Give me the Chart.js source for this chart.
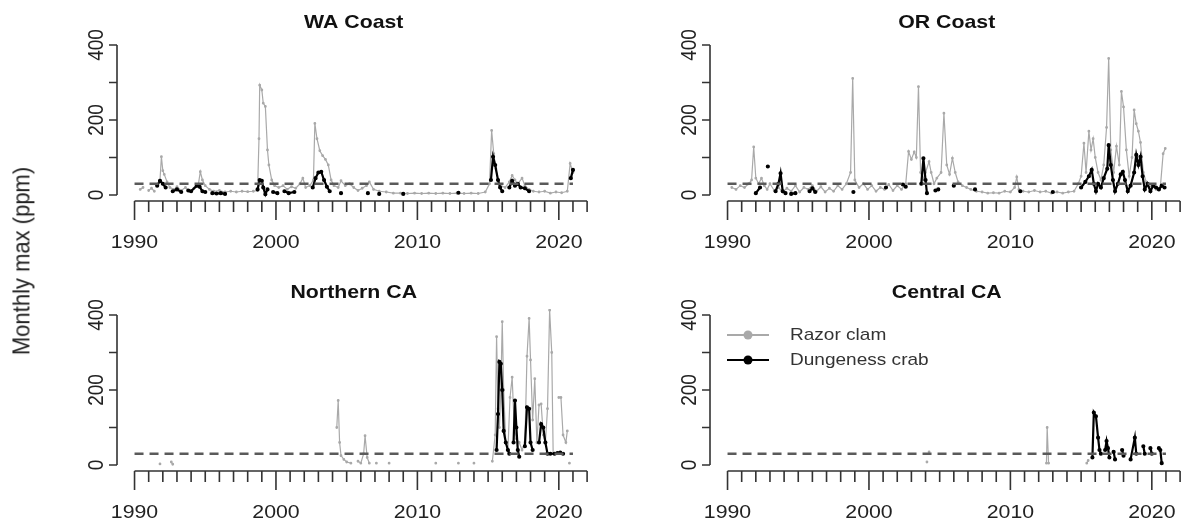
<!DOCTYPE html>
<html>
<head>
<meta charset="utf-8">
<script src="https://cdn.jsdelivr.net/npm/chart.js@4/dist/chart.umd.min.js"></script>
<style>
  body { margin: 0; background: #fff; }
  #wrap { position: relative; width: 1181px; height: 522px; overflow: hidden; font-family: "Liberation Sans", Arial, sans-serif; }
  .panel { position: absolute; }
  #ylab { position: absolute; left: 22px; top: 261px; transform: translate(-50%, -50%) rotate(-90deg) scaleY(1.12); font-size: 22px; color: #222; white-space: nowrap; }
</style>
</head>
<body>
<div id="wrap">
  <canvas class="panel" id="wa" width="600" height="252" style="left:0;top:0"></canvas>
  <canvas class="panel" id="or" width="600" height="252" style="left:593px;top:0"></canvas>
  <canvas class="panel" id="nca" width="600" height="252" style="left:0;top:270px"></canvas>
  <canvas class="panel" id="cca" width="600" height="252" style="left:593px;top:270px"></canvas>
  <div id="ylab">Monthly max (ppm)</div>
</div>
<script>
// monthly max domoic acid (ppm), decimal year; null breaks the line
const waClamT = [1990.4, 1990.6, 1990.8, 1991.0, 1991.2, 1991.4, 1991.6, 1991.8, 1991.9, 1992.0, 1992.1, 1992.3, 1992.5, 1992.8, 1993.0, 1993.3, 1993.6, 1993.9, 1994.2, 1994.5, 1994.65, 1994.8, 1995.0, 1995.3, 1995.6, 1996.0, 1996.4, 1996.8, 1997.2, 1997.6, 1998.0, 1998.4, 1998.7, 1998.8, 1998.85, 1999.0, 1999.1, 1999.25, 1999.4, 1999.5, 1999.7, 1999.9, 2000.2, 2000.5, 2000.8, 2001.1, 2001.4, 2001.7, 2001.9, 2002.1, 2002.4, 2002.65, 2002.75, 2002.9, 2003.1, 2003.3, 2003.5, 2003.7, 2003.9, 2004.1, 2004.4, 2004.6, 2004.9, 2005.2, 2005.5, 2005.8, 2006.1, 2006.4, 2006.6, 2006.9, 2007.3, 2007.8, 2008.3, 2008.8, 2009.3, 2009.8, 2010.3, 2010.8, 2011.3, 2011.8, 2012.3, 2012.8, 2013.3, 2013.8, 2014.3, 2014.8, 2015.1, 2015.25, 2015.4, 2015.55, 2015.7, 2015.9, 2016.2, 2016.5, 2016.7, 2016.9, 2017.1, 2017.4, 2017.6, 2017.9, 2018.2, 2018.6, 2019.0, 2019.4, 2019.8, 2020.2, 2020.6, 2020.8, 2021.0];
const waClamV = [15, 20, null, 12, 18, 10, null, 40, 102, 65, 55, 35, 20, 15, 22, 12, 20, 10, 18, 25, 62, 40, 25, 15, 10, 12, 8, 10, 8, 10, 9, 10, 12, 150, 293, 280, 245, 236, 120, 80, 40, 25, 20, 25, 15, 22, 18, 30, 45, 20, 25, 40, 191, 150, 118, 105, 95, 80, 40, 25, 20, 38, 25, 30, 20, 12, 18, 25, 35, 15, 10, 8, 5, 5, 4, 5, 4, 5, 4, 5, 4, 5, 4, 5, 4, 8, 30, 172, 110, 70, 40, 25, 20, 35, 52, 40, 30, 45, 25, 15, 10, 8, 10, 5, 8, 6, 10, 84, 60];
const waCrabT = [1991.6, 1991.8, 1992.0, 1992.2, 1992.4, 1992.7, 1993.0, 1993.3, 1993.5, 1993.8, 1994.0, 1994.4, 1994.6, 1994.8, 1995.0, 1995.2, 1995.5, 1995.8, 1996.1, 1996.4, 1996.6, 1998.7, 1998.85, 1999.0, 1999.1, 1999.25, 1999.4, 1999.6, 1999.8, 2000.1, 2000.3, 2000.6, 2000.9, 2001.3, 2001.5, 2002.6, 2002.8, 2003.0, 2003.2, 2003.4, 2003.6, 2003.8, 2004.0, 2004.6, 2004.8, 2006.5, 2006.7, 2007.3, 2007.5, 2009.0, 2009.2, 2012.9, 2013.1, 2015.2, 2015.35, 2015.5, 2015.7, 2015.85, 2016.0, 2016.2, 2016.5, 2016.7, 2016.9, 2017.1, 2017.3, 2017.6, 2017.9, 2018.1, 2020.85, 2021.0];
const waCrabV = [25, 38, 30, 20, null, 10, 15, 8, null, 12, 10, 25, 22, 10, 8, null, 5, 4, 5, 3, null, 15, 40, 38, 20, 2, 15, null, 8, 5, null, 10, 5, 8, null, 20, 45, 60, 62, 40, 22, 10, null, 5, null, 5, null, 3, null, 3, null, 6, null, 40, 102, 80, 40, 20, 10, null, 20, 38, 25, 30, 20, 18, 10, null, 45, 67];

const orClamT = [1990.3, 1990.6, 1990.9, 1991.2, 1991.5, 1991.7, 1991.85, 1992.0, 1992.2, 1992.4, 1992.6, 1992.8, 1993.0, 1993.3, 1993.6, 1993.9, 1994.2, 1994.5, 1994.8, 1995.1, 1995.4, 1995.7, 1996.0, 1996.3, 1996.6, 1996.9, 1997.2, 1997.5, 1997.8, 1998.1, 1998.4, 1998.7, 1998.85, 1999.0, 1999.3, 1999.6, 1999.9, 2000.2, 2000.5, 2000.8, 2001.1, 2001.4, 2001.7, 2002.0, 2002.3, 2002.6, 2002.8, 2003.0, 2003.2, 2003.35, 2003.5, 2003.65, 2003.8, 2004.0, 2004.25, 2004.4, 2004.6, 2004.8, 2005.1, 2005.3, 2005.5, 2005.7, 2005.9, 2006.1, 2006.3, 2006.6, 2006.9, 2007.2, 2007.6, 2008.0, 2008.4, 2008.8, 2009.2, 2009.6, 2010.0, 2010.3, 2010.45, 2010.6, 2010.9, 2011.3, 2011.7, 2012.1, 2012.5, 2012.9, 2013.3, 2013.7, 2014.1, 2014.5, 2014.8, 2015.0, 2015.2, 2015.35, 2015.55, 2015.7, 2015.85, 2016.0, 2016.2, 2016.4, 2016.6, 2016.8, 2016.95, 2017.1, 2017.3, 2017.5, 2017.7, 2017.85, 2018.0, 2018.2, 2018.4, 2018.6, 2018.75, 2018.9, 2019.05, 2019.2, 2019.4, 2019.6, 2019.8, 2020.0, 2020.3, 2020.6, 2020.8, 2020.95];
const orClamV = [20, 15, 25, 20, 30, 40, 128, 45, 30, 45, 25, 15, 30, 12, 20, 8, 18, 10, 25, 8, 20, 15, 25, 10, 22, 8, 18, 10, 25, 15, 30, 60, 311, 40, 20, 30, 15, 25, 10, 20, 15, 28, 12, 25, 15, 30, 116, 95, 115, 100, 289, 60, 40, 60, 89, 60, 30, 45, 60, 218, 80, 55, 98, 60, 35, 25, 20, 15, 10, 8, 5, 6, 5, 10, 8, 20, 48, 15, 10, 8, 12, 8, 10, 5, 8, 5, 8, 10, 30, 50, 138, 60, 170, 120, 150, 100, 60, 40, 80, 180, 364, 120, 60, 130, 80, 276, 235, 120, 50, 100, 227, 190, 170, 140, 60, 35, 20, 25, 15, 20, 110, 124];
const orCrabT = [1992.0, 1992.3, 1992.5, 1992.85, 1993.0, 1993.4, 1993.6, 1993.75, 1993.9, 1994.1, 1994.3, 1994.5, 1994.8, 1995.0, 1995.8, 1996.0, 1996.2, 1996.4, 1998.9, 1999.1, 2001.2, 2001.4, 2002.4, 2002.6, 2002.8, 2003.7, 2003.85, 2004.0, 2004.1, 2004.3, 2004.7, 2004.9, 2005.1, 2006.0, 2006.2, 2007.5, 2007.7, 2010.7, 2010.9, 2013.0, 2013.2, 2015.0, 2015.3, 2015.55, 2015.75, 2015.9, 2016.05, 2016.2, 2016.4, 2016.6, 2016.85, 2016.95, 2017.1, 2017.25, 2017.4, 2017.6, 2017.8, 2017.95, 2018.1, 2018.3, 2018.5, 2018.75, 2018.9, 2019.05, 2019.2, 2019.35, 2019.5, 2019.7, 2019.9, 2020.1, 2020.3, 2020.5, 2020.7, 2020.9];
const orCrabV = [5, 20, null, 76, null, 10, 30, 58, 10, 5, null, 3, 5, null, 10, 18, 8, null, 8, null, 20, null, 28, 22, null, 30, 98, 40, 5, null, 12, 15, null, 25, null, 15, null, 10, null, 8, null, 20, 35, 50, 67, 30, 10, 30, 20, 45, 70, 133, 80, 40, 10, 30, 55, 62, 40, 10, 25, 60, 107, 80, 102, 50, 15, 30, 10, 25, 20, 15, 25, 20];

const ncaClamT = [1991.8, 1992.0, 1992.6, 1992.7, 1992.9, 2004.3, 2004.4, 2004.5, 2004.6, 2004.8, 2005.0, 2005.3, 2005.5, 2005.8, 2006.0, 2006.2, 2006.3, 2006.45, 2006.6, 2006.8, 2007.1, 2007.3, 2008.0, 2008.2, 2011.3, 2011.5, 2012.9, 2013.1, 2014.0, 2014.2, 2015.3, 2015.5, 2015.6, 2015.7, 2015.8, 2015.9, 2016.0, 2016.1, 2016.25, 2016.4, 2016.55, 2016.7, 2016.85, 2017.0, 2017.2, 2017.4, 2017.6, 2017.75, 2017.9, 2018.0, 2018.15, 2018.3, 2018.45, 2018.6, 2018.75, 2018.9, 2019.05, 2019.2, 2019.35, 2019.5, 2019.6, 2019.8, 2020.0, 2020.15, 2020.3, 2020.5, 2020.6, 2020.7, 2020.75];
const ncaClamV = [3, null, 8, 2, null, 100, 172, 60, 25, 15, 8, 5, null, 10, 5, 30, 78, 20, 5, null, 5, null, 5, null, 5, null, 5, null, 5, null, 10, 80, 342, 150, 100, 200, 382, 200, 60, 40, 180, 234, 100, 70, 60, 40, 60, 290, 391, 280, 120, 230, 60, 160, 163, 80, 60, 150, 413, 300, 30, null, 180, 180, 80, 60, 91, null, 5];
const ncaCrabT = [2015.6, 2015.7, 2015.8, 2015.9, 2016.0, 2016.1, 2016.25, 2016.4, 2016.5, 2016.65, 2016.8, 2016.9, 2017.0, 2017.1, 2017.2, 2017.4, 2017.6, 2017.75, 2017.9, 2018.0, 2018.15, 2018.4, 2018.6, 2018.75, 2018.9, 2019.05, 2019.2, 2019.4, 2019.7, 2019.9, 2020.1, 2020.3];
const ncaCrabV = [40, 136, 275, 270, 200, 91, 60, 40, 30, null, 60, 172, 100, 40, 22, null, 50, 154, 150, 60, 40, null, 60, 109, 100, 60, 30, 30, 30, 32, 33, 30];

const ccaClamT = [2004.1, 2004.15, 2004.25, 2004.3, 2012.55, 2012.6, 2012.7, 2012.8, 2015.4, 2015.5];
const ccaClamV = [8, null, 35, null, 5, 100, 5, null, 5, 12];
const ccaCrabT = [2015.8, 2015.9, 2016.05, 2016.2, 2016.3, 2016.4, 2016.55, 2016.7, 2016.8, 2016.9, 2017.0, 2017.15, 2017.3, 2017.4, 2017.6, 2017.9, 2018.0, 2018.2, 2018.5, 2018.8, 2018.9, 2019.1, 2019.4, 2019.5, 2019.7, 2019.9, 2020.0, 2020.2, 2020.5, 2020.6, 2020.7];
const ccaCrabV = [20, 140, 130, 73, 40, 30, null, 40, 64, 45, 20, null, 35, 15, null, 40, 25, null, 15, 73, 30, null, 50, 30, null, 45, 30, null, 45, 40, 5];

// regulatory action level
const thresholdT = [1990, 2021];
const thresholdV = [30, 30];

const xTicks = [1990, 2000, 2010, 2020];
const yTicks = [0, 100, 200, 300, 400];
const yLabels = [0, 200, 400];

const clamColor = "#a9a9a9";
const crabColor = "#000000";
const textStretch = 1.12;

function toPoints(t, v) {
  return t.map((x, i) => ({ x, y: v[i] }));
}

function wideText(ctx, s, x, y, rotated) {
  ctx.save();
  ctx.translate(x, y);
  if (rotated) {
    ctx.rotate(-Math.PI / 2);
    ctx.scale(1, textStretch);
  } else {
    ctx.scale(textStretch, 1);
  }
  ctx.fillText(s, 0, 0);
  ctx.restore();
}

// base-graphics style axes: detached from each other, spanning tick range only
const rAxes = {
  id: "rAxes",
  afterDraw(chart, args, opts) {
    const ctx = chart.ctx;
    const xs = chart.scales.x;
    const ys = chart.scales.y;
    const area = chart.chartArea;
    ctx.save();
    ctx.strokeStyle = "#333";
    ctx.fillStyle = "#222";
    ctx.lineWidth = 1.6;

    // y axis
    ctx.beginPath();
    ctx.moveTo(area.left, ys.getPixelForValue(0));
    ctx.lineTo(area.left, ys.getPixelForValue(400));
    yTicks.forEach((v) => {
      const py = ys.getPixelForValue(v);
      ctx.moveTo(area.left, py);
      ctx.lineTo(area.left - 8, py);
    });
    ctx.stroke();
    ctx.font = "19px 'Liberation Sans', Arial, sans-serif";
    ctx.textAlign = "center";
    ctx.textBaseline = "middle";
    yLabels.forEach((v) => {
      wideText(ctx, String(v), area.left - 20, ys.getPixelForValue(v), true);
    });

    // x axis, yearly minor ticks
    const base = area.bottom;
    ctx.beginPath();
    ctx.moveTo(xs.getPixelForValue(1990), base);
    ctx.lineTo(xs.getPixelForValue(2022), base);
    for (let yr = 1990; yr <= 2022; yr++) {
      const px = xs.getPixelForValue(yr);
      const len = yr % 10 === 0 ? 19 : 11;
      ctx.moveTo(px, base);
      ctx.lineTo(px, base + len);
    }
    ctx.stroke();
    xTicks.forEach((yr) => {
      wideText(ctx, String(yr), xs.getPixelForValue(yr), base + 42, false);
    });

    // panel title
    ctx.font = "bold 19px 'Liberation Sans', Arial, sans-serif";
    ctx.fillStyle = "#111";
    wideText(ctx, opts.title, (area.left + area.right) / 2, 23, false);

    if (opts.legend) {
      const top = ys.getPixelForValue(400);
      const lx = area.left + 17;
      const rows = [
        { label: "Razor clam", color: clamColor, y: top + 20 },
        { label: "Dungeness crab", color: crabColor, y: top + 45 },
      ];
      ctx.font = "17px 'Liberation Sans', Arial, sans-serif";
      ctx.textAlign = "left";
      rows.forEach((r) => {
        ctx.strokeStyle = r.color;
        ctx.fillStyle = r.color;
        ctx.lineWidth = 2;
        ctx.beginPath();
        ctx.moveTo(lx, r.y);
        ctx.lineTo(lx + 42, r.y);
        ctx.stroke();
        ctx.beginPath();
        ctx.arc(lx + 21, r.y, 4.5, 0, Math.PI * 2);
        ctx.fill();
        ctx.fillStyle = "#333";
        wideText(ctx, r.label, lx + 63, r.y, false);
      });
    }
    ctx.restore();
  },
};

function makePanel(id, title, clamT, clamV, crabT, crabV, legend) {
  return new Chart(document.getElementById(id), {
    type: "line",
    data: {
      datasets: [
        {
          label: "threshold",
          data: toPoints(thresholdT, thresholdV),
          borderColor: "#5a5a5a",
          borderWidth: 2.6,
          borderDash: [9, 6],
          pointRadius: 0,
          order: 0,
        },
        {
          label: "Dungeness crab",
          data: toPoints(crabT, crabV),
          borderColor: crabColor,
          backgroundColor: crabColor,
          borderWidth: 2.2,
          pointRadius: 1,
          order: 1,
        },
        {
          label: "Razor clam",
          data: toPoints(clamT, clamV),
          borderColor: clamColor,
          backgroundColor: clamColor,
          borderWidth: 1.2,
          pointRadius: 0.8,
          order: 2,
        },
      ],
    },
    options: {
      responsive: false,
      animation: false,
      spanGaps: false,
      layout: { padding: { left: 117, right: 9.5, top: 39, bottom: 51 } },
      scales: {
        x: { type: "linear", display: false, min: 1988.76, max: 2022.24 },
        y: { display: false, min: -16, max: 416 },
      },
      plugins: {
        legend: { display: false },
        tooltip: { enabled: false },
        rAxes: { title, legend },
      },
    },
    plugins: [rAxes],
  });
}

makePanel("wa", "WA Coast", waClamT, waClamV, waCrabT, waCrabV, false);
makePanel("or", "OR Coast", orClamT, orClamV, orCrabT, orCrabV, false);
makePanel("nca", "Northern CA", ncaClamT, ncaClamV, ncaCrabT, ncaCrabV, false);
makePanel("cca", "Central CA", ccaClamT, ccaClamV, ccaCrabT, ccaCrabV, true);
</script>
</body>
</html>
